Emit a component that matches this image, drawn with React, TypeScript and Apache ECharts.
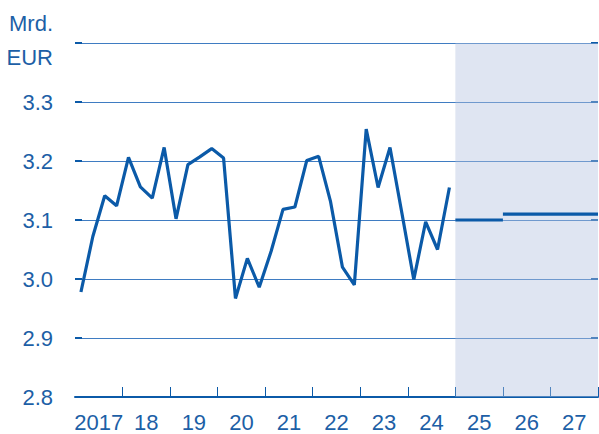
import React, { useEffect, useRef } from "react";
import * as echarts from "echarts";

const yearLabels = ["2017", "18", "19", "20", "21", "22", "23", "24", "25", "26", "27"];
const firstYear = 2017;
const lastYearEnd = 2028;

// quarterly values 2017Q1 .. 2024Q4 (Mrd. EUR)
const quarterlyValues = [
  2.978, 3.072, 3.141, 3.124,
  3.206, 3.156, 3.137, 3.223,
  3.102, 3.194, 3.207, 3.221,
  3.205, 2.967, 3.035, 2.986,
  3.047, 3.118, 3.122, 3.201,
  3.208, 3.131, 3.020, 2.990,
  3.254, 3.155, 3.223, 3.112,
  2.999, 3.097, 3.050, 3.155,
];

const forecastStart = [2025, 2026];
const forecastEnd = [2026, 2028];
const forecastValues = [3.1, 3.11];
const shadeRange = [2025, 2028];

const yMin = 2.8;
const yMax = 3.4;
const yStep = 0.1;

const BLUE = "#0b5aa8";
const TEXT = "#1d5fa6";
const GRID = "#3f7cc2";
const FONT = "Liberation Sans, Arial, sans-serif";

export default function App() {
  const ref = useRef<HTMLDivElement>(null);
  useEffect(() => {
    document.body.style.margin = "0";
    if (!ref.current) return;
    const chart = echarts.init(ref.current, null, { renderer: "svg" });
    const actual = quarterlyValues.map((v, i) => [firstYear + (i + 0.5) / 4, v]);
    const forecastSeries = forecastValues.map((v, i) => ({
      type: "line",
      xAxisIndex: 1,
      yAxisIndex: 0,
      showSymbol: false,
      symbol: "none",
      lineStyle: { color: BLUE, width: 3.2 },
      data: [
        [forecastStart[i], v],
        [forecastEnd[i], v],
      ],
      z: 3,
    }));
    chart.setOption({
      animation: false,
      textStyle: { fontFamily: FONT },
      grid: { left: 75, right: 1, top: 43, bottom: 37, containLabel: false },
      graphic: [
        {
          type: "text",
          x: 53,
          y: 23.5,
          style: { text: "Mrd.", fill: TEXT, font: `22px ${FONT}`, textAlign: "right", textVerticalAlign: "middle" },
        },
        {
          type: "text",
          x: 53,
          y: 57,
          style: { text: "EUR", fill: TEXT, font: `22px ${FONT}`, textAlign: "right", textVerticalAlign: "middle" },
        },
      ],
      xAxis: [
        {
          type: "category",
          data: yearLabels,
          boundaryGap: true,
          axisLine: { show: true, lineStyle: { color: BLUE, width: 2 } },
          axisTick: {
            show: true,
            inside: true,
            length: 10,
            lineStyle: { color: BLUE, width: 1 },
            interval: (i: number) => i !== 0,
          },
          axisLabel: { color: TEXT, fontSize: 22, fontFamily: FONT, margin: 14, interval: 0 },
          splitLine: { show: false },
        },
        {
          type: "value",
          min: firstYear,
          max: lastYearEnd,
          show: false,
          splitLine: { show: false },
        },
      ],
      yAxis: [
        {
          type: "value",
          min: yMin,
          max: yMax,
          interval: yStep,
          axisLine: { show: false },
          axisTick: { show: true, inside: true, length: 7, lineStyle: { color: BLUE, width: 2 } },
          axisLabel: {
            color: TEXT,
            fontSize: 22,
            fontFamily: FONT,
            margin: 22,
            formatter: (v: number) => (v > yMax - 1e-6 ? "" : v.toFixed(1)),
          },
          splitLine: { show: true, lineStyle: { color: GRID, width: 1 } },
        },
        {
          type: "value",
          position: "right",
          min: yMin,
          max: yMax,
          interval: yStep,
          axisLine: { show: false },
          axisTick: { show: true, inside: true, length: 7, lineStyle: { color: BLUE, width: 2 } },
          axisLabel: { show: false },
          splitLine: { show: false },
        },
      ],
      series: [
        {
          type: "line",
          xAxisIndex: 1,
          yAxisIndex: 0,
          showSymbol: false,
          symbol: "none",
          lineStyle: { color: BLUE, width: 3.2 },
          data: actual,
          z: 3,
          markArea: {
            silent: true,
            itemStyle: { color: "rgba(179,193,224,0.42)" },
            data: [[{ xAxis: shadeRange[0] }, { xAxis: shadeRange[1] }]],
          },
        },
        ...forecastSeries,
      ],
    });
    return () => chart.dispose();
  }, []);
  return <div ref={ref} style={{ width: 599, height: 434 }} />;
}
